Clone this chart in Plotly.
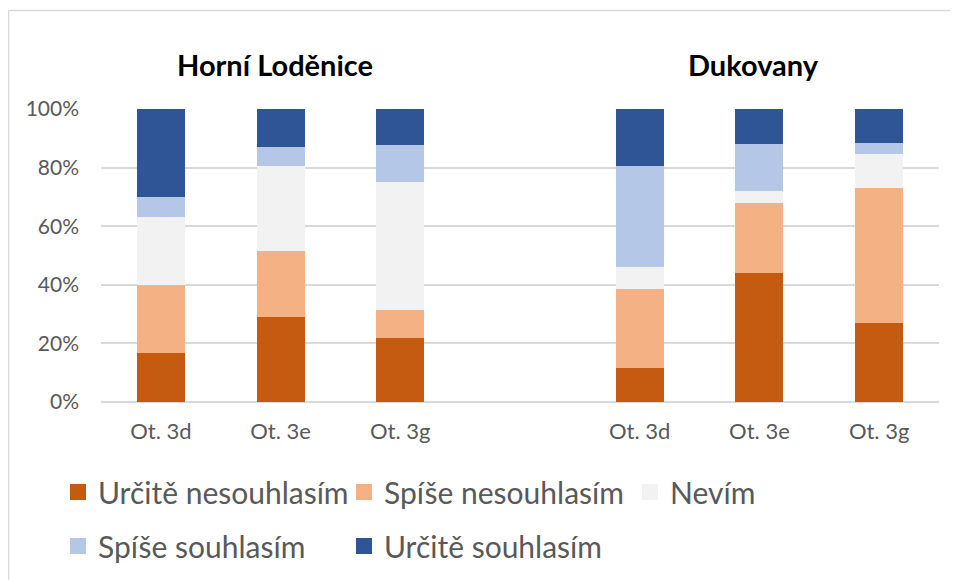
import plotly.graph_objects as go

categories = ["Ot. 3d", "Ot. 3e", "Ot. 3g", "", "Ot. 3d", "Ot. 3e", "Ot. 3g"]
positions = [0, 1, 2, 3, 4, 5, 6]
bar_positions = [0, 1, 2, 4, 5, 6]
group_titles = ["Horní Loděnice", "Dukovany"]

series_names = ["Určitě nesouhlasím", "Spíše nesouhlasím", "Nevím", "Spíše souhlasím", "Určitě souhlasím"]
urcite_nesouhlasim = [16.7, 29.0, 21.9, 11.5, 44.0, 26.9]
spise_nesouhlasim = [23.3, 22.6, 9.4, 26.9, 24.0, 46.2]
nevim = [23.3, 29.0, 43.8, 7.7, 4.0, 11.5]
spise_souhlasim = [6.7, 6.5, 12.5, 34.6, 16.0, 3.8]
urcite_souhlasim = [30.0, 12.9, 12.5, 19.2, 12.0, 11.5]
series_values = [urcite_nesouhlasim, spise_nesouhlasim, nevim, spise_souhlasim, urcite_souhlasim]
colors = ["#C55A11", "#F4B183", "#F2F2F2", "#B4C7E7", "#2F5597"]

y_ticks = [0, 20, 40, 60, 80, 100]
y_tick_labels = ["0%", "20%", "40%", "60%", "80%", "100%"]

FONT = "Lato"
GRAY = "#595959"

fig = go.Figure()
for name, vals, col in zip(series_names, series_values, colors):
    fig.add_trace(go.Bar(
        x=bar_positions, y=vals, name=name, marker=dict(color=col, line=dict(width=0)),
        showlegend=False, hoverinfo="name+y",
    ))

for i, (name, col) in enumerate(zip(series_names, colors)):
    fig.add_trace(go.Scatter(
        x=[None], y=[None], mode="markers", name=name,
        marker=dict(symbol="square", size=16, color=col),
        legend="legend" if i < 3 else "legend2",
    ))

# the page places the figure 8px in from the top-left corner
OFF = 8
W, H = 958, 580
L, T = 101 - OFF, 109 - OFF
R = W - (939 - OFF)
B = H - (402 - OFF)
pw, ph = W - L - R, H - T - B

def px_x(p):  # screen px -> paper
    return (p - OFF - L) / pw

def px_y(p):
    return (H - B - (p - OFF)) / ph

legend_common = dict(
    orientation="h", xanchor="left", yanchor="middle", traceorder="normal",
    font=dict(family=FONT, size=30, color=GRAY),
    itemsizing="trace", entrywidth=241, entrywidthmode="pixels",
    bgcolor="rgba(0,0,0,0)", itemclick=False, itemdoubleclick=False,
)

fig.update_layout(
    width=W, height=H, margin=dict(l=L, r=R, t=T, b=B, autoexpand=False),
    barmode="stack", bargap=0.6,
    paper_bgcolor="white", plot_bgcolor="white",
    font=dict(family=FONT, color=GRAY),
    xaxis=dict(
        tickmode="array", tickvals=positions, ticktext=categories,
        range=[-0.5, 6.5], showgrid=False, zeroline=False, showline=False,
        tickfont=dict(family=FONT, size=22, color=GRAY),
        ticks="", ticklabelstandoff=14,
    ),
    yaxis=dict(
        range=[0, 100], tickvals=y_ticks, ticktext=y_tick_labels,
        showgrid=True, gridcolor="#D9D9D9", gridwidth=1.5,
        zeroline=True, zerolinecolor="#D9D9D9", zerolinewidth=1.5,
        showline=False, ticks="", ticklabelstandoff=21,
        tickfont=dict(family=FONT, size=21, color=GRAY),
    ),
    legend=dict(x=px_x(58), y=px_y(492), **legend_common),
    legend2=dict(x=px_x(58), y=px_y(546), **legend_common),
    showlegend=True,
)

for gx, title in zip([0.95, 4.95], group_titles):
    fig.add_annotation(
        x=gx, y=px_y(65), xref="x", yref="paper", text="<b>" + title + "</b>",
        showarrow=False, font=dict(family=FONT, size=29, color="#000000"),
        xanchor="center", yanchor="middle",
    )

# chart area border (partially cropped in the reference)
fig.add_shape(type="line", xref="paper", yref="paper",
              x0=px_x(8.5), x1=px_x(990), y0=px_y(10.5), y1=px_y(10.5),
              line=dict(color="#D9D9D9", width=1.5))
fig.add_shape(type="line", xref="paper", yref="paper",
              x0=px_x(8.5), x1=px_x(8.5), y0=px_y(600), y1=px_y(10.5),
              line=dict(color="#D9D9D9", width=1.5))

fig.write_html("out.html")
